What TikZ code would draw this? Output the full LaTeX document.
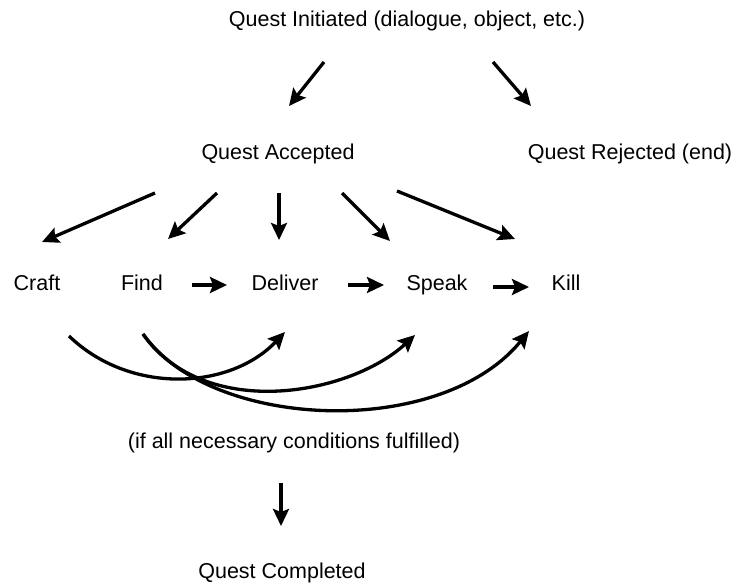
\documentclass[tikz,border=0pt]{standalone}
\usepackage{fontspec}
\setmainfont{Liberation Sans}
\usetikzlibrary{arrows.meta}
\begin{document}
\begin{tikzpicture}[x=1pt,y=-1pt,
  lbl/.style={inner sep=0pt,anchor=base,font=\fontsize{21.5}{26}\selectfont},
  arr/.style={line width=3.3pt,-{Stealth[length=17pt,width=16pt,inset=3pt]}}]
\useasboundingbox (0,0) rectangle (739,586);
\node[lbl] (qi) at (407,27) {Quest Initiated (dialogue, object, etc.)};
\node[lbl] (qa) at (278,159) {Quest Accepted};
\node[lbl] (qr) at (630,159) {Quest Rejected (end)};
\node[lbl] (craft) at (37,290) {Craft};
\node[lbl] (find) at (142,290) {Find};
\node[lbl] (deliver) at (285,290) {Deliver};
\node[lbl] (speak) at (437,290) {Speak};
\node[lbl] (kill) at (566,290) {Kill};
\node[lbl] (cond) at (294,448) {(if all necessary conditions fulfilled)};
\node[lbl] (done) at (282,578) {Quest Completed};
% arrow end points
\coordinate (qiqa1) at (324,62);  \coordinate (qiqa2) at (289,106);
\coordinate (qiqr1) at (493,62);  \coordinate (qiqr2) at (531,106);
\coordinate (qac1) at (155,193);  \coordinate (qac2) at (42,242);
\coordinate (qaf1) at (217,193);  \coordinate (qaf2) at (168,239);
\coordinate (qad1) at (279,193);  \coordinate (qad2) at (279,240);
\coordinate (qas1) at (342,193);  \coordinate (qas2) at (390,241);
\coordinate (qak1) at (397,191);  \coordinate (qak2) at (515,239);
\coordinate (fd1) at (192,285);   \coordinate (fd2) at (227,285);
\coordinate (ds1) at (348,285);   \coordinate (ds2) at (384,285);
\coordinate (sk1) at (493,287);   \coordinate (sk2) at (529,287);
\coordinate (cd1) at (69,336);    \coordinate (cd2) at (285,332);
\coordinate (fs1) at (143,334);   \coordinate (fs2) at (415,335);
\coordinate (fk1) at (143,334);   \coordinate (fk2) at (529,331);
\coordinate (cq1) at (281,483);   \coordinate (cq2) at (281,526);
\draw[arr] (qiqa1) -- (qiqa2);
\draw[arr] (qiqr1) -- (qiqr2);
\draw[arr] (qac1) -- (qac2);
\draw[arr] (qaf1) -- (qaf2);
\draw[arr] (qad1) -- (qad2);
\draw[arr] (qas1) -- (qas2);
\draw[arr] (qak1) -- (qak2);
\draw[arr] (fd1) -- (fd2);
\draw[arr] (ds1) -- (ds2);
\draw[arr] (sk1) -- (sk2);
\draw[arr] (cd1) .. controls (130,395) and (230,390) .. (cd2);
\draw[arr] (fs1) .. controls (205,422) and (350,395) .. (fs2);
\draw[arr] (fk1) .. controls (210,430) and (440,440) .. (fk2);
\draw[arr] (cq1) -- (cq2);
\end{tikzpicture}
\end{document}
